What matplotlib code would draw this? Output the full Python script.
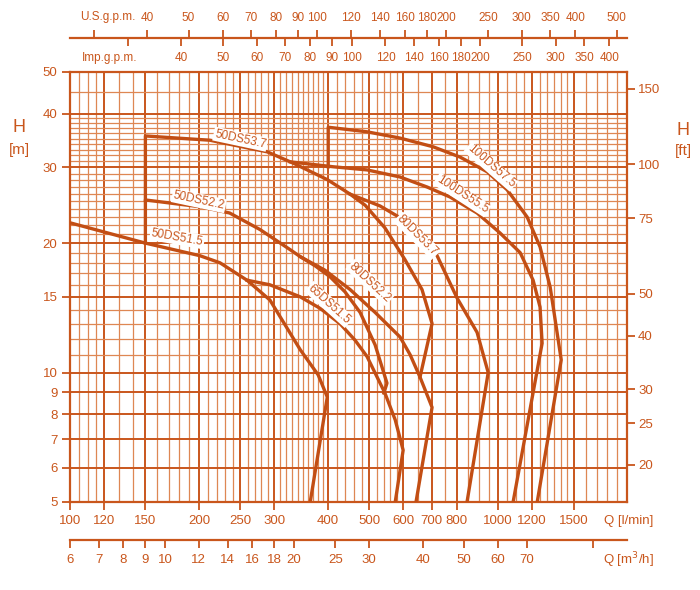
import matplotlib
matplotlib.use("Agg")
import matplotlib.pyplot as plt
from matplotlib.ticker import NullLocator, NullFormatter

plt.rcParams["font.family"] = ["Liberation Sans", "DejaVu Sans"]

# --------------------------------------------------
# Kennlinien  (Q in l/min, H in m)
# --------------------------------------------------

q_50ds515 = [100, 150, 201, 224, 259, 293, 345, 380, 399, 364]
h_50ds515 = [22.3, 20.0, 18.7, 18.0, 16.4, 14.75, 11.3, 9.87, 8.77, 5.0]

q_50ds522 = [150, 150, 201, 236, 278, 327, 345, 374, 405, 439, 476, 516, 550, 541]
h_50ds522 = [20.0, 25.2, 24.3, 23.5, 21.5, 19.3, 18.6, 17.7, 16.7, 15.4, 13.8, 11.6, 9.45, 8.96]

q_50ds537 = [150, 150, 212, 289, 332, 399, 451, 489, 544, 606, 664, 701, 657]
h_50ds537 = [25.2, 35.5, 34.7, 32.6, 30.7, 28.1, 26.0, 24.5, 21.7, 18.3, 15.6, 13.0, 9.76]

q_65ds515 = [259, 293, 345, 384, 427, 463, 494, 544, 575, 600, 575]
h_65ds515 = [16.4, 16.0, 15.0, 14.1, 13.0, 11.9, 10.9, 8.96, 7.76, 6.6, 5.0]

q_80ds522 = [345, 394, 451, 516, 590, 623, 657, 701, 643]
h_80ds522 = [18.6, 17.3, 15.6, 13.8, 12.1, 11.0, 9.76, 8.3, 5.0]

q_80ds537 = [451, 530, 623, 713, 802, 893, 948, 846]
h_80ds537 = [26.0, 24.4, 22.2, 19.1, 14.9, 12.4, 10.0, 5.0]

q_100ds555 = [327, 412, 494, 590, 683, 772, 893, 1011, 1126, 1207, 1253, 1267, 1084]
h_100ds555 = [30.9, 30.1, 29.6, 28.5, 27.0, 25.6, 23.5, 21.1, 19.0, 16.4, 14.2, 11.7, 5.0]

q_100ds575 = [401, 401, 494, 590, 705, 815, 943, 1050, 1169, 1253, 1323, 1345, 1404, 1234]
h_100ds575 = [30.1, 37.2, 36.3, 35.1, 33.5, 31.7, 29.3, 26.6, 23.0, 19.6, 15.8, 14.2, 10.7, 5.0]

names = ["50DS51.5", "50DS52.2", "50DS53.7", "65DS51.5",
         "80DS52.2", "80DS53.7", "100DS55.5", "100DS57.5"]

# Achsenteilungen
q_major = [100, 120, 150, 200, 250, 300, 400, 500, 600, 700, 800, 1000, 1200, 1500]
h_major = [5, 6, 7, 8, 9, 10, 15, 20, 30, 40, 50]
ft_ticks = [20, 25, 30, 40, 50, 75, 100, 150]
us_ticks = [30, 40, 50, 60, 70, 80, 90, 100, 120, 140, 160, 180, 200, 250, 300, 350, 400, 500]
imp_ticks = [30, 40, 50, 60, 70, 80, 90, 100, 120, 140, 160, 180, 200, 250, 300, 350, 400]
m3h_ticks = [6, 7, 8, 9, 10, 12, 14, 16, 18, 20, 25, 30, 40, 50, 60, 70, 100]

q_minor = ([105, 110, 115, 130, 140, 160, 170, 180, 190]
           + [210, 220, 230, 240, 260, 270, 280, 290]
           + [310, 320, 330, 340, 350, 360, 370, 380, 390]
           + [420, 440, 460, 480, 520, 540, 560, 580, 650, 750, 850, 900, 950]
           + [1050, 1100, 1150, 1250, 1300, 1350, 1400, 1450, 1600, 1700, 1800, 1900])
h_minor = ([11, 12, 13, 14, 16, 17, 18, 19]
           + [21, 22, 23, 24, 25, 26, 27, 28, 29]
           + [31, 32, 33, 34, 35, 36, 37, 38, 39, 45])

# --------------------------------------------------
# Layout
# --------------------------------------------------

C = "#c9561c"
C_LINE = "#c24e14"
C_MINOR = "#de8753"
FS = 9.5
FS_TOP = 8.5

W_PX, H_PX = 700, 590


def fx(px):
    return px / W_PX


def fy(py):
    return 1 - py / H_PX


fig = plt.figure(figsize=(7, 5.9), dpi=100)

left, right = fx(70), fx(627)
ax = fig.add_axes([left, fy(502), right - left, fy(72) - fy(502)])
ax.set_xscale("log")
ax.set_yscale("log")
ax.set_xlim(100, 2000)
ax.set_ylim(5, 50)

ax.set_xticks(q_major, labels=[str(v) for v in q_major])
ax.set_xticks(q_minor, minor=True)
ax.set_yticks(h_major, labels=[str(v) for v in h_major])
ax.set_yticks(h_minor, minor=True)
ax.xaxis.set_minor_formatter(NullFormatter())
ax.yaxis.set_minor_formatter(NullFormatter())

ax.grid(which="major", color=C, linewidth=1.4)
ax.grid(which="minor", color=C_MINOR, linewidth=0.9)
ax.tick_params(which="minor", length=0)
ax.tick_params(which="major", direction="out", length=6, width=1.3,
               color=C, labelcolor=C, labelsize=FS, pad=3)
for s in ax.spines.values():
    s.set_color(C)
    s.set_linewidth(1.6)

# H in ft rechts
ax_ft = ax.twinx()
ax_ft.set_yscale("log")
ax_ft.set_ylim(5 / 0.3048, 50 / 0.3048)
ax_ft.set_yticks(ft_ticks, labels=[str(v) for v in ft_ticks])
ax_ft.yaxis.set_minor_locator(NullLocator())
ax_ft.tick_params(direction="out", length=6, width=1.3, color=C,
                  labelcolor=C, labelsize=FS, pad=2)
for s in ax_ft.spines.values():
    s.set_visible(False)


def scale_axis(y_px, lo, hi, ticks, skip, side, size):
    a = fig.add_axes([left, fy(y_px), right - left, 0.0001])
    a.set_xscale("log")
    a.set_xlim(lo, hi)
    a.patch.set_visible(False)
    a.yaxis.set_visible(False)
    for s in a.spines.values():
        s.set_visible(False)
    labels = ["" if v in skip else str(v) for v in ticks]
    a.set_xticks(ticks, labels=labels)
    a.xaxis.set_minor_locator(NullLocator())
    if side == "top":
        a.xaxis.tick_top()
    a.tick_params(direction="out", length=6, width=1.3, color=C,
                  labelcolor=C, labelsize=size, pad=4)
    return a


ax_us = scale_axis(38, 100 / 3.785, 2000 / 3.785, us_ticks, [30], "top", FS_TOP)
ax_us.spines["top"].set_visible(True)
ax_us.spines["top"].set_color(C)
ax_us.spines["top"].set_linewidth(1.6)
ax_imp = scale_axis(38, 100 / 4.546, 2000 / 4.546, imp_ticks, [30], "bottom", FS_TOP)
ax_m3 = scale_axis(540, 100 * 0.06, 2000 * 0.06, m3h_ticks, [100], "bottom", FS)
ax_m3.spines["bottom"].set_visible(True)
ax_m3.spines["bottom"].set_color(C)
ax_m3.spines["bottom"].set_linewidth(1.6)

# --------------------------------------------------
# Kurven
# --------------------------------------------------

curves = [
    (q_50ds515, h_50ds515),
    (q_50ds522, h_50ds522),
    (q_50ds537, h_50ds537),
    (q_65ds515, h_65ds515),
    (q_80ds522, h_80ds522),
    (q_80ds537, h_80ds537),
    (q_100ds555, h_100ds555),
    (q_100ds575, h_100ds575),
]
for q, h in curves:
    ax.plot(q, h, color=C_LINE, linewidth=2.4, zorder=4)

# Beschriftung der Kurven (Position Q, H und Drehung)
label_pos = [(178, 20.6, -10), (200, 25.1, -12), (250, 34.9, -12), (403, 14.4, -42),
             (502, 16.2, -43), (647, 20.8, -45), (824, 25.9, -33), (963, 30.2, -41)]
for name, (lq, lh, rot) in zip(names, label_pos):
    ax.text(lq, lh, name, rotation=rot, rotation_mode="anchor",
            ha="center", va="center", fontsize=8.5, color=C, zorder=6,
            bbox=dict(facecolor="white", edgecolor="none", pad=0.8))

# --------------------------------------------------
# Achsentitel
# --------------------------------------------------

fig.text(fx(108), fy(17), "U.S.g.p.m.", ha="center", va="center", color=C, fontsize=FS_TOP)
fig.text(fx(110), fy(58), "Imp.g.p.m.", ha="center", va="center", color=C, fontsize=FS_TOP)
fig.text(fx(629), fy(521), "Q [l/min]", ha="center", va="center", color=C, fontsize=FS)
fig.text(fx(628), fy(560), "Q [m$^3$/h]", ha="center", va="center", color=C, fontsize=FS)
fig.text(fx(19), fy(128), "H", ha="center", va="center", color=C, fontsize=13)
fig.text(fx(19), fy(150), "[m]", ha="center", va="center", color=C, fontsize=11)
fig.text(fx(683), fy(131), "H", ha="center", va="center", color=C, fontsize=13)
fig.text(fx(683), fy(151), "[ft]", ha="center", va="center", color=C, fontsize=11)

fig.savefig("out.png", dpi=100)
